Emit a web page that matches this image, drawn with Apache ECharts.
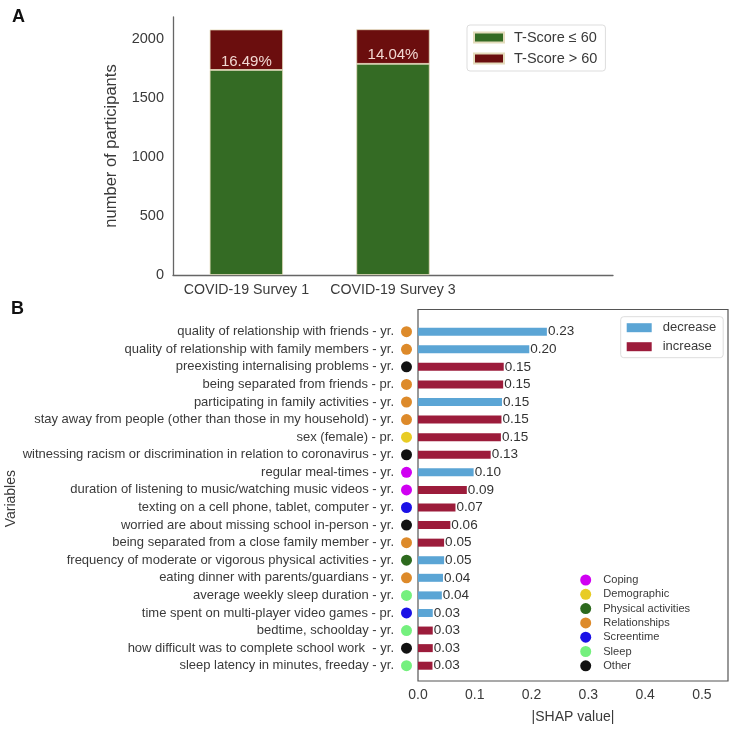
<!DOCTYPE html>
<html><head><meta charset="utf-8">
<script src="https://cdn.jsdelivr.net/npm/echarts@6/dist/echarts.min.js"></script>
<style>html,body{margin:0;padding:0;background:#fff}#c{width:735px;height:729px}</style>
</head><body><div id="c"></div>
<script>
// ---- Panel A data ----
const surveys = ['COVID-19 Survey 1', 'COVID-19 Survey 3', ''];
const lowScore = [1734, 1786];
const highScore = [342, 292];
const highPct = ['16.49%', '14.04%'];

// ---- Panel B data ----
const variables = [
  'quality of relationship with friends - yr.',
  'quality of relationship with family members - yr.',
  'preexisting internalising problems - yr.',
  'being separated from friends - pr.',
  'participating in family activities - yr.',
  'stay away from people (other than those in my household) - yr.',
  'sex (female) - pr.',
  'witnessing racism or discrimination in relation to coronavirus - yr.',
  'regular meal-times - yr.',
  'duration of listening to music/watching music videos - yr.',
  'texting on a cell phone, tablet, computer - yr.',
  'worried are about missing school in-person - yr.',
  'being separated from a close family member - yr.',
  'frequency of moderate or vigorous physical activities - yr.',
  'eating dinner with parents/guardians - yr.',
  'average weekly sleep duration - yr.',
  'time spent on multi-player video games - pr.',
  'bedtime, schoolday - yr.',
  'how difficult was to complete school work  - yr.',
  'sleep latency in minutes, freeday - yr.'
];
const shap = [0.227, 0.196, 0.151, 0.150, 0.148, 0.147, 0.146, 0.128, 0.098, 0.086,
              0.066, 0.057, 0.046, 0.046, 0.044, 0.042, 0.026, 0.026, 0.026, 0.0255];
const effect = ['decrease','decrease','increase','increase','decrease','increase','increase','increase','decrease','increase',
                'increase','increase','increase','decrease','decrease','decrease','decrease','increase','increase','increase'];
const group = ['Relationships','Relationships','Other','Relationships','Relationships','Relationships','Demographic','Other','Coping','Coping',
               'Screentime','Other','Relationships','Physical activities','Relationships','Sleep','Screentime','Sleep','Other','Sleep'];
const groupNames = ['Coping','Demographic','Physical activities','Relationships','Screentime','Sleep','Other'];

// ---- styles ----
const groupColor = {
  'Coping': '#d000f2', 'Demographic': '#e8cc24', 'Physical activities': '#2d6a1e',
  'Relationships': '#dd8a2a', 'Screentime': '#1b10e6', 'Sleep': '#74f07e', 'Other': '#121212'
};
const C_GREEN = '#346b24', C_DRED = '#6b0e0e', C_BLUE = '#5ba5d5', C_CRIMSON = '#9c1c3b';
const TXT = '#3a3a3a';
const FONT = 'Liberation Sans';

const rich = { t: { fontSize: 13, color: TXT, fontFamily: FONT }, s: { width: 7 } };
groupNames.forEach((g, i) => {
  rich['g' + i] = { width: 11, height: 11, borderRadius: 5.5, backgroundColor: groupColor[g] };
});

const chart = echarts.init(document.getElementById('c'), null, { renderer: 'canvas' });

const option = {
  animation: false,
  backgroundColor: '#fff',
  textStyle: { fontFamily: FONT },
  title: [
    { text: 'A', left: 7, top: 3, textStyle: { fontSize: 18, fontWeight: 'bold', color: '#111', fontFamily: FONT } },
    { text: 'B', left: 6, top: 295, textStyle: { fontSize: 18, fontWeight: 'bold', color: '#111', fontFamily: FONT } }
  ],
  grid: [
    { left: 173, right: 122, top: 17, bottom: 454 },
    { left: 418, right: 7, top: 309.5, bottom: 42, show: true, borderColor: '#555', borderWidth: 1.2, backgroundColor: 'transparent' },
    { left: 418, right: 7, top: 322.9, bottom: 54.5 }
  ],
  xAxis: [
    { gridIndex: 0, type: 'category', data: surveys,
      axisLine: { lineStyle: { color: '#666', width: 1.3 } }, axisTick: { show: false },
      axisLabel: { fontSize: 14.2, color: TXT, margin: 8, interval: 0 } },
    { gridIndex: 1, type: 'value', min: 0, max: 0.546, interval: 0.1,
      axisLine: { show: false }, axisTick: { show: false }, splitLine: { show: false },
      axisLabel: { fontSize: 14, color: TXT, margin: 7, formatter: v => v.toFixed(1), showMaxLabel: false },
      name: '|SHAP value|', nameLocation: 'middle', nameGap: 29,
      nameTextStyle: { fontSize: 14, color: TXT } },
    { gridIndex: 2, type: 'value', min: 0, max: 0.546, show: false }
  ],
  yAxis: [
    { gridIndex: 0, type: 'value', min: 0, max: 2182, interval: 500,
      axisLine: { show: true, lineStyle: { color: '#666', width: 1.3 } }, axisTick: { show: false },
      splitLine: { show: false },
      axisLabel: { fontSize: 14.5, color: TXT, margin: 9, showMaxLabel: false, formatter: v => String(v) },
      name: 'number of participants', nameLocation: 'middle', nameGap: 53,
      nameTextStyle: { fontSize: 16.5, color: TXT } },
    { gridIndex: 1, type: 'value', show: false, min: 0, max: 1 },
    { gridIndex: 2, type: 'category', data: variables, inverse: true,
      axisLine: { show: false }, axisTick: { show: false }, splitLine: { show: false },
      axisLabel: { margin: 6, interval: 0, rich: rich,
        formatter: (v, i) => '{t|' + v + '}{s|}{g' + groupNames.indexOf(group[i]) + '|}' },
      name: 'Variables', nameLocation: 'middle', nameGap: 400, nameRotate: 90,
      nameTextStyle: { fontSize: 14, color: TXT } }
  ],
  legend: [
    { data: ['T-Score ≤ 60', 'T-Score > 60'], orient: 'vertical', left: 467, top: 25, icon: 'rect',
      padding: [4, 8, 4, 6], itemGap: 4, itemWidth: 30, itemHeight: 10,
      borderColor: '#ddd', borderWidth: 1, borderRadius: 3,
      textStyle: { fontSize: 14.5, color: TXT, lineHeight: 17, padding: [0, 0, 0, 5] } },
    { data: ['decrease', 'increase'], orient: 'vertical', left: 620.7, top: 316.7, icon: 'rect',
      padding: [3, 7, 3, 6], itemGap: 3, itemWidth: 25, itemHeight: 9,
      borderColor: '#ddd', borderWidth: 1, borderRadius: 3,
      textStyle: { fontSize: 13, color: TXT, lineHeight: 16, padding: [0, 0, 0, 6] } },
    { data: groupNames, orient: 'vertical', left: 580.2, top: 574.5,
      padding: 0, itemGap: 3.3, itemWidth: 11, itemHeight: 11, icon: 'circle',
      textStyle: { fontSize: 11.1, color: TXT, lineHeight: 11, padding: [0, 0, 0, 7] } }
  ],
  series: [
    { name: 'T-Score ≤ 60', type: 'bar', xAxisIndex: 0, yAxisIndex: 0, stack: 'a', barWidth: '50%',
      data: lowScore, itemStyle: { color: C_GREEN, borderColor: '#e4dcbc', borderWidth: 0.8 } },
    { name: 'T-Score > 60', type: 'bar', xAxisIndex: 0, yAxisIndex: 0, stack: 'a', barWidth: '50%',
      data: highScore, itemStyle: { color: C_DRED, borderColor: '#e4dcbc', borderWidth: 0.8 },
      label: { show: true, position: 'insideBottom', distance: 1, color: '#f2d8d2', fontSize: 15,
        formatter: p => highPct[p.dataIndex] } },
    { name: 'decrease', type: 'bar', xAxisIndex: 2, yAxisIndex: 2, barWidth: 8, barGap: '-100%',
      data: shap.map((v, i) => effect[i] === 'decrease' ? v : '-'),
      itemStyle: { color: C_BLUE },
      label: { show: true, position: 'right', distance: 1, fontSize: 13.5, color: '#333',
        formatter: p => p.value.toFixed(2) } },
    { name: 'increase', type: 'bar', xAxisIndex: 2, yAxisIndex: 2, barWidth: 8, barGap: '-100%',
      data: shap.map((v, i) => effect[i] === 'increase' ? v : '-'),
      itemStyle: { color: C_CRIMSON },
      label: { show: true, position: 'right', distance: 1, fontSize: 13.5, color: '#333',
        formatter: p => p.value.toFixed(2) } }
  ].concat(groupNames.map(g => ({
    name: g, type: 'scatter', xAxisIndex: 2, yAxisIndex: 2, data: [],
    symbol: 'circle', itemStyle: { color: groupColor[g], opacity: 1 }
  })))
};
chart.setOption(option);
</script>
</body></html>
